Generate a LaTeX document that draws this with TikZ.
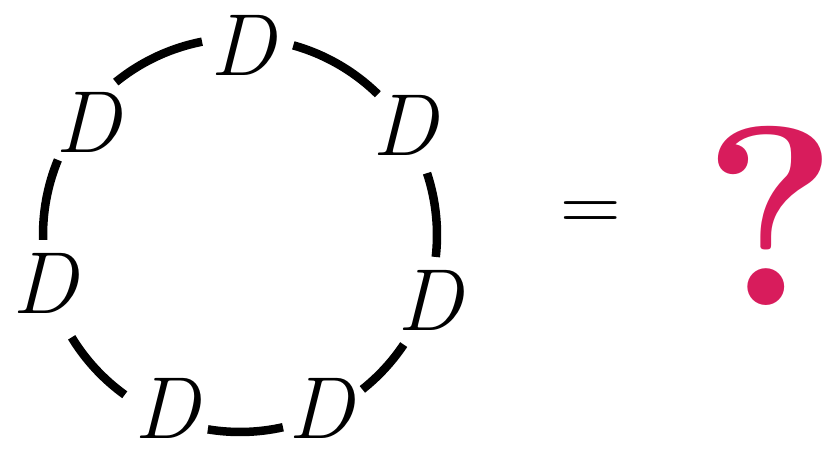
\documentclass[tikz,border=0pt]{standalone}
\usepackage{fontspec}
\usetikzlibrary{calc}
\definecolor{qred}{RGB}{216,28,92}
\begin{document}
\begin{tikzpicture}[x=1pt,y=1pt,
  dlabel/.style={inner sep=0pt,font=\fontsize{88}{96}\selectfont\itshape},
  ring/.style={line width=8.5pt,line cap=butt}]
\useasboundingbox (0,0) rectangle (823,451);
\coordinate (c) at (240,216);
% D nodes
\node[dlabel] (dT)  at ($(c)+(89:190)$)    {D};
\node[dlabel] (dUL) at ($(c)+(143.4:189)$) {D};
\node[dlabel] (dUR) at ($(c)+(33.7:198)$)  {D};
\node[dlabel] (dL)  at ($(c)+(194:201)$)   {D};
\node[dlabel] (dR)  at ($(c)+(-18.9:201)$) {D};
\node[dlabel] (dBL) at ($(c)+(-113:188)$)  {D};
\node[dlabel] (dBR) at ($(c)+(-65:191)$)   {D};
% ring arcs
\draw[ring] ($(c)+(157.6:197)$) arc[start angle=157.6,end angle=181.4,radius=197];
\draw[ring] ($(c)+(101.1:197)$) arc[start angle=101.1,end angle=129.1,radius=197];
\draw[ring] ($(c)+(45.6:197)$)  arc[start angle=45.6,end angle=74.3,radius=197];
\draw[ring] ($(c)+(-6.4:197)$)  arc[start angle=-6.4,end angle=18.3,radius=197];
\draw[ring] ($(c)+(-51.6:197)$) arc[start angle=-51.6,end angle=-33.8,radius=197];
\draw[ring] ($(c)+(-99.4:197)$) arc[start angle=-99.4,end angle=-77.4,radius=197];
\draw[ring] ($(c)+(-148.7:197)$) arc[start angle=-148.7,end angle=-125.8,radius=197];
% equals and question mark
\node[inner sep=0pt,font=\fontsize{84}{90}\selectfont] (eq) at (591,234) {=};
\node[inner sep=0pt,text=qred,font=\fontsize{256}{260}\selectfont\bfseries] (q) at (770,235) {\makebox[104pt]{?}};
\end{tikzpicture}
\end{document}
